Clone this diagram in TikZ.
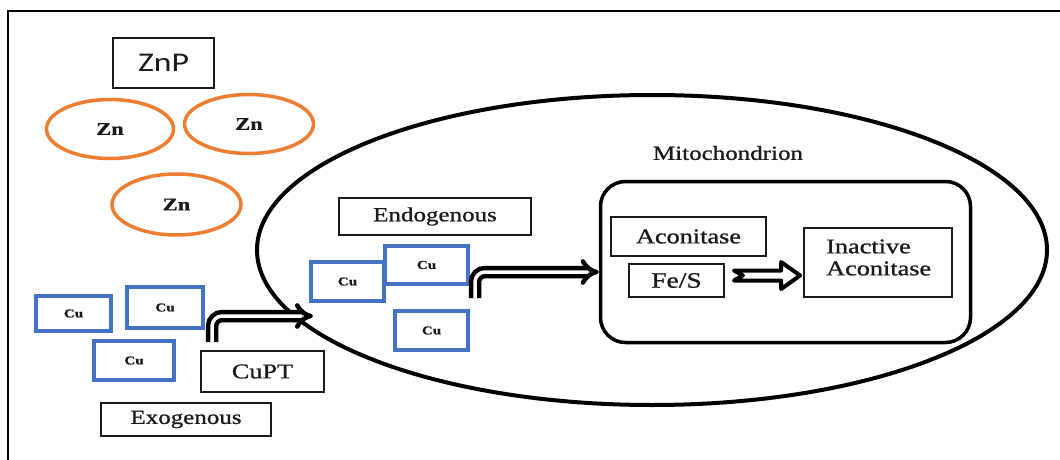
\documentclass[tikz,border=0pt]{standalone}
\usepackage{fontspec}
\setmainfont{Liberation Serif}[FakeBold=0.8]
\newfontfamily\sansf{Carlito}
\usepackage{graphicx}
\usetikzlibrary{arrows.meta,shapes.geometric,calc}
\definecolor{cublue}{HTML}{4472C4}
\definecolor{znorange}{HTML}{ED7D31}
\definecolor{ink}{HTML}{1A1A1A}
\newcommand\sx[1]{\scalebox{1.25}[1]{#1}}
\newcommand\fs[1]{\fontsize{#1}{#1}\selectfont}
\begin{document}
\begin{tikzpicture}[x=1pt,y=-1pt,
  box/.style={draw=ink, line width=1.8pt, rectangle, inner sep=0pt, fill=white, text=ink, font=\fs{21}},
  cubox/.style={draw=cublue, line width=3.8pt, rectangle, inner sep=0pt, fill=white, text=ink, font=\fs{12}\bfseries},
  znell/.style={draw=znorange, line width=3.5pt, ellipse, inner sep=0pt, minimum width=126pt, minimum height=59pt, text=ink, font=\fs{18}\bfseries},
  lbl/.style={inner sep=0pt, text=ink, font=\fs{20}},
  bendarrow/.style={line width=4.5pt, double=white, double distance=3.5pt, rounded corners=10pt, -{Implies}},
]
\useasboundingbox (0,0) rectangle (1060,460);
\fill[white] (0,0) rectangle (1060,460);
% frame (top and left edges visible)
\draw[line width=2pt] (8,460) -- (8,11) -- (1060,11);

% mitochondrion
\node[draw, ellipse, line width=4pt, minimum width=790pt, minimum height=310pt, inner sep=0pt] (mito) at (652,250) {};
\node[lbl] (mitolbl) at (728,153) {\sx{Mitochondrion}};
\node[draw, line width=3.5pt, rounded corners=25pt, minimum width=370pt, minimum height=161pt, inner sep=0pt] (inner) at (785.5,262) {};

% zinc
\node[box, font=\sansf\fs{27}, minimum width=101pt, minimum height=50pt] (znp) at (163.5,63) {\sx{ZnP}};
\node[znell, minimum width=127pt] (zn1) at (110,129) {\sx{Zn}};
\node[znell, minimum width=129pt] (zn2) at (249,124) {\sx{Zn}};
\node[znell, minimum width=129pt, minimum height=61pt] (zn3) at (176.5,204.5) {\sx{Zn}};

% exogenous copper
\node[cubox, minimum width=75pt, minimum height=35pt] (cu1) at (73.5,313.5) {\sx{Cu}};
\node[cubox, minimum width=76pt, minimum height=41pt] (cu2) at (165,307.5) {\sx{Cu}};
\node[cubox, minimum width=80pt, minimum height=39pt] (cu3) at (134,360.5) {\sx{Cu}};
\node[box, minimum width=123pt, minimum height=41pt] (cupt) at (262.5,371.5) {\sx{CuPT}};
\node[box, font=\fs{20}, minimum width=170pt, minimum height=33pt] (exo) at (186,419.5) {\sx{Exogenous}};

% endogenous copper
\node[box, font=\fs{20}, minimum width=192pt, minimum height=37pt] (endo) at (435,216.5) {\sx{Endogenous}};
\node[cubox, minimum width=73pt, minimum height=39pt] (cuA) at (347.5,281.5) {\sx{Cu}};
\node[cubox, minimum width=83pt, minimum height=38pt] (cuB) at (426.5,265) {\sx{Cu}};
\node[cubox, minimum width=73pt, minimum height=39pt] (cuC) at (431.5,330.5) {\sx{Cu}};

% aconitase
\node[box, minimum width=155pt, minimum height=39pt] (acon) at (688.5,236.5) {\sx{Aconitase}};
\node[box, font=\fs{22}, minimum width=95pt, minimum height=33pt] (fes) at (676.5,280.5) {\sx{Fe/S}};
\node[box, minimum width=148pt, minimum height=69pt] (inact) at (878,262.5) {};
\node[lbl, font=\fs{21}, anchor=west, align=left] (inactlbl) at (826,257.5) {\sx{Inactive}\\[1pt]\sx{Aconitase}};

% bent arrows
\coordinate (exoS) at ($(cupt.north west)+(12,-8)$);
\coordinate (exoE) at (313,316);
\draw[bendarrow] (exoS) |- (exoE);
\coordinate (endoS) at (475,298);
\draw[bendarrow] (endoS) |- (inner.west |- 0,272);

% notched arrow Fe/S -> Inactive Aconitase
\coordinate (nN) at ($(fes.east)+(18,-5)$);
\coordinate (nTip) at ($(inact.west |- nN)+(-3,0)$);
\draw[line width=4pt, line join=round, fill=white]
  ($(nN)+(-9,-5)$) -- ($(nTip)+(-19,-5)$) -- ($(nTip)+(-19,-13.5)$) -- (nTip)
  -- ($(nTip)+(-19,13.5)$) -- ($(nTip)+(-19,5)$) -- ($(nN)+(-9,5)$) -- (nN) -- cycle;
\end{tikzpicture}
\end{document}
